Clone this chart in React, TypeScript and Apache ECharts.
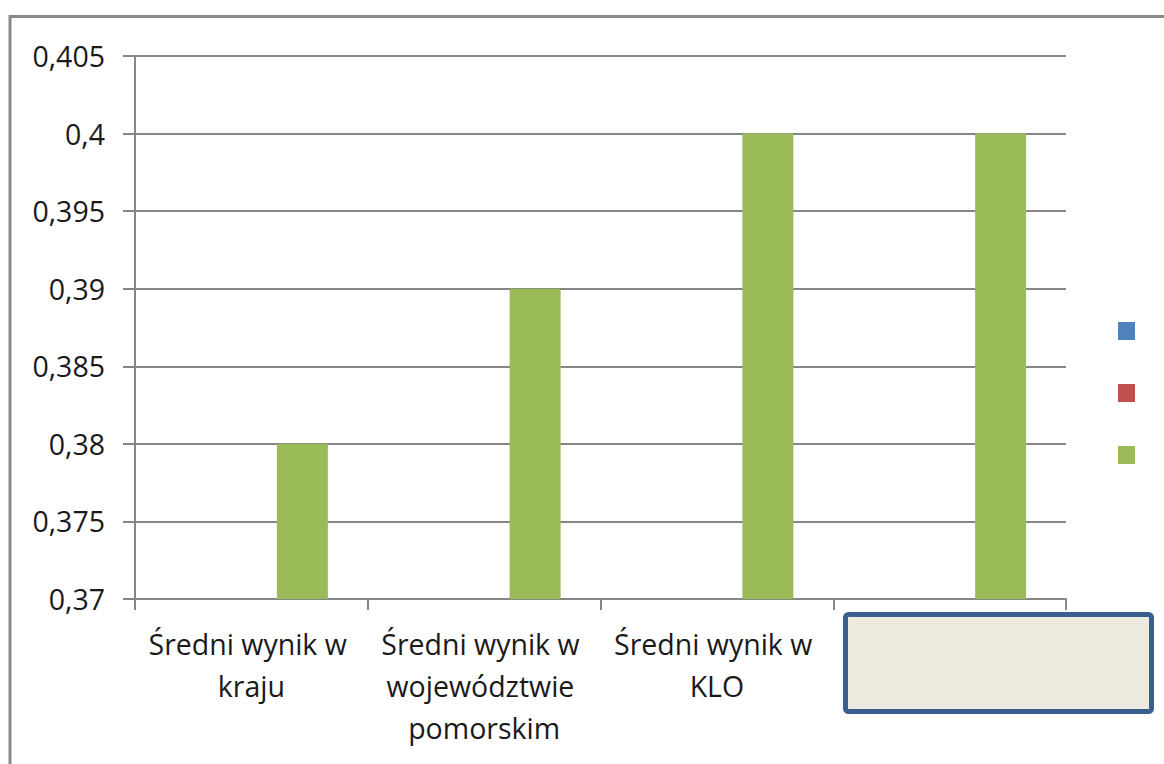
import React, { useEffect, useRef } from "react";
import * as echarts from "echarts";

const categories = [
  "Średni wynik w kraju",
  "Średni wynik w województwie pomorskim",
  "Średni wynik w KLO",
  "",
];
const seriesNames = ["Seria 1", "Seria 2", "Seria 3"];
const series1: (number | null)[] = [null, null, null, null];
const series2: (number | null)[] = [null, null, null, null];
const series3 = [0.38, 0.39, 0.4, 0.4];
const colors = ["#4F81BD", "#C0504D", "#9BBB59"];

const FONT = "'Open Sans', 'Noto Sans', sans-serif";

export default function App() {
  const ref = useRef<HTMLDivElement>(null);
  useEffect(() => {
    if (!ref.current) return;
    const chart = echarts.init(ref.current, undefined, { renderer: "svg" });
    const data = [series1, series2, series3];
    chart.setOption({
      animation: false,
      backgroundColor: "#ffffff",
      textStyle: { fontFamily: FONT },
      grid: { left: 135, right: 98, top: 56, bottom: 165, containLabel: false },
      legend: {
        orient: "vertical",
        left: 1113,
        top: 317,
        itemWidth: 17,
        itemHeight: 18,
        itemGap: 44,
        icon: "rect",
        formatter: () => "",
        selectedMode: false,
        data: seriesNames,
      },
      xAxis: {
        type: "category",
        data: categories,
        axisLine: { show: true, lineStyle: { color: "#868686", width: 2 } },
        axisTick: { show: true, length: 11, alignWithLabel: false, lineStyle: { color: "#868686", width: 2 } },
        axisLabel: {
          interval: 0,
          margin: 24,
          color: "#1a1a1a",
          fontSize: 28.5,
          fontFamily: FONT,
          lineHeight: 42,
          width: 225,
          overflow: "break",
        },
      },
      yAxis: {
        type: "value",
        min: 0.37,
        max: 0.405,
        interval: 0.005,
        axisLine: { show: true, lineStyle: { color: "#868686", width: 2 } },
        axisTick: { show: true, length: 12, inside: false, lineStyle: { color: "#868686", width: 2 } },
        splitLine: { show: true, lineStyle: { color: "#868686", width: 2 } },
        axisLabel: {
          margin: 30,
          color: "#1a1a1a",
          fontSize: 28.5,
          fontFamily: FONT,
          formatter: (v: number) => String(Math.round(v * 1000) / 1000).replace(".", ","),
        },
      },
      series: seriesNames.map((name, i) => ({
        name,
        type: "bar",
        data: data[i],
        barWidth: 51,
        barGap: "0%",
        itemStyle: { color: colors[i] },
      })),
      graphic: [
        {
          type: "rect",
          shape: { x: 10, y: 16.5, width: 1300, height: 900 },
          style: { fill: "none", stroke: "#898989", lineWidth: 3 },
          silent: true,
        },
        {
          type: "rect",
          shape: { x: 845.5, y: 614.5, width: 306, height: 97, r: 3 },
          style: { fill: "#EDEBE0", stroke: "#3A5F8E", lineWidth: 5 },
          z: 100,
          silent: true,
        },
      ],
    });
    return () => chart.dispose();
  }, []);
  return (
    <div
      ref={ref}
      style={{ position: "fixed", left: 0, top: 0, width: 1164, height: 764 }}
    />
  );
}
